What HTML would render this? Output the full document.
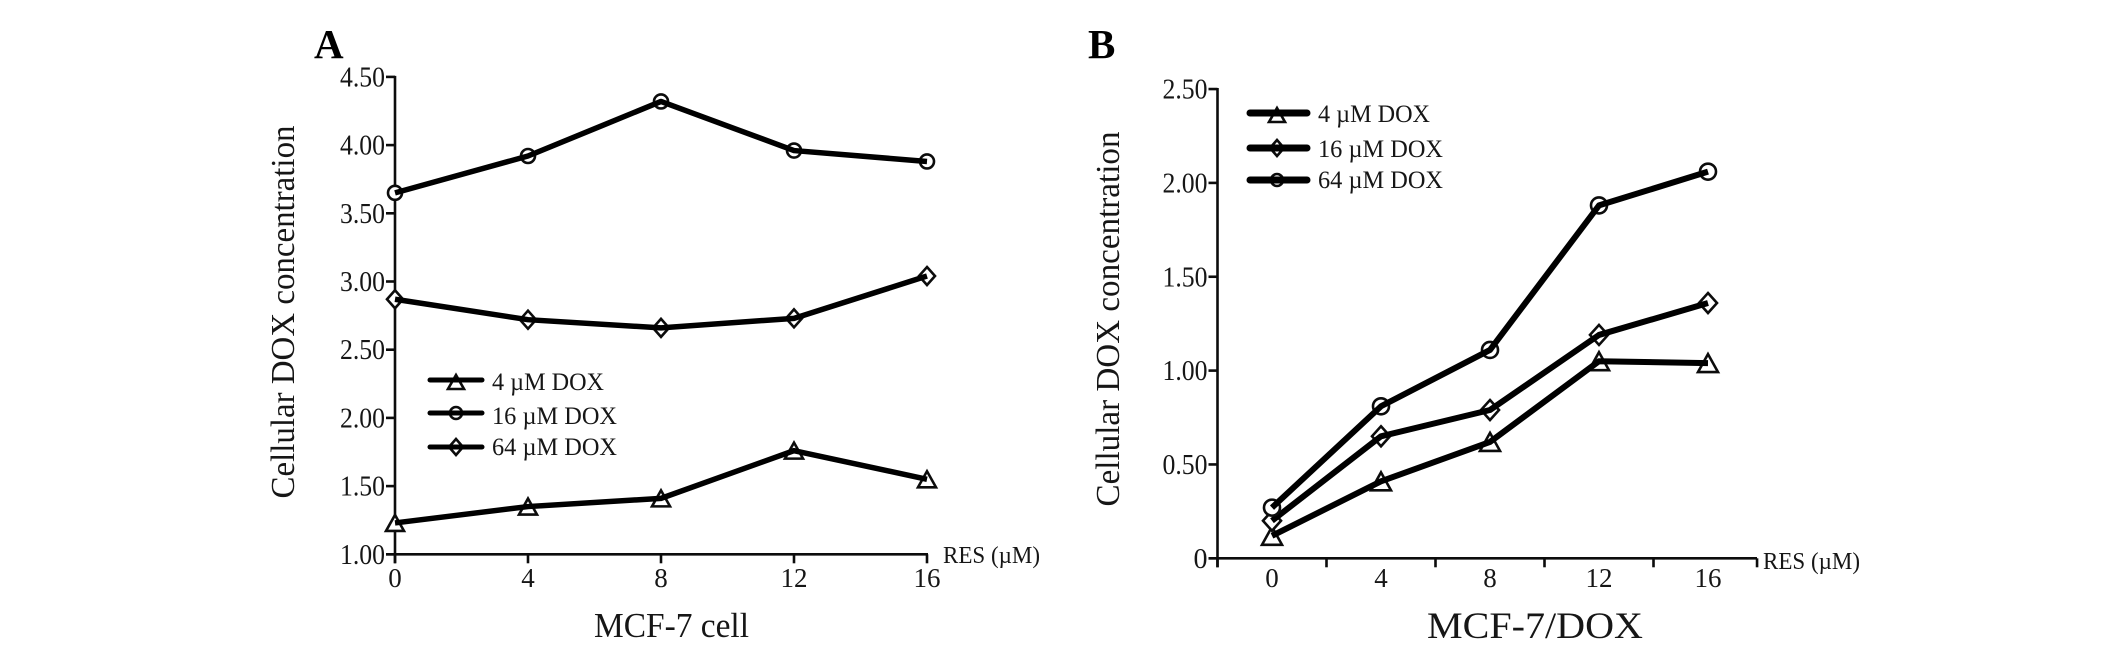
<!DOCTYPE html>
<html lang="en">
<head>
<meta charset="utf-8">
<title>Cellular DOX concentration</title>
<style>
html,body{margin:0;padding:0;background:#fff;width:2126px;height:650px;overflow:hidden}
svg{display:block}
text{font-family:"Liberation Serif","Times New Roman",serif;fill:#161616}
</style>
</head>
<body>
<svg id="figure" xmlns="http://www.w3.org/2000/svg" width="2126" height="650" viewBox="0 0 2126 650">
  <rect width="2126" height="650" fill="#fff"/>
  <text x="314" y="58" font-size="41" font-weight="bold" style="fill:#000">A</text>
  <text x="1088" y="58" font-size="41" font-weight="bold" style="fill:#000">B</text>
  <text transform="translate(294,312) rotate(-90)" text-anchor="middle" font-size="34" textLength="373" lengthAdjust="spacingAndGlyphs">Cellular DOX concentration</text>
  <text transform="translate(1119,319) rotate(-90)" text-anchor="middle" font-size="34" textLength="375" lengthAdjust="spacingAndGlyphs">Cellular DOX concentration</text>
  <text x="594" y="637" font-size="35" textLength="155" lengthAdjust="spacingAndGlyphs">MCF-7 cell</text>
  <text x="1427" y="638" font-size="37" textLength="216" lengthAdjust="spacingAndGlyphs">MCF-7/DOX</text>
  <text x="943" y="563" font-size="24" textLength="97" lengthAdjust="spacingAndGlyphs">RES (µM)</text>
  <text x="1763" y="569" font-size="24" textLength="97" lengthAdjust="spacingAndGlyphs">RES (µM)</text>
  <g id="panel-a"></g>
  <g id="panel-b"></g>
</svg>
<script>
var categories = [0, 4, 8, 12, 16];
var seriesNames = ['4 µM DOX', '16 µM DOX', '64 µM DOX'];

var panelA4 = [1.23, 1.35, 1.41, 1.76, 1.55];
var panelA16 = [2.87, 2.72, 2.66, 2.73, 3.04];
var panelA64 = [3.65, 3.92, 4.32, 3.96, 3.88];
var panelAYTicks = [1.00, 1.50, 2.00, 2.50, 3.00, 3.50, 4.00, 4.50];
var panelAYTickLabels = ['1.00', '1.50', '2.00', '2.50', '3.00', '3.50', '4.00', '4.50'];

var panelB4 = [0.12, 0.41, 0.62, 1.05, 1.04];
var panelB16 = [0.20, 0.65, 0.79, 1.19, 1.36];
var panelB64 = [0.27, 0.81, 1.11, 1.88, 2.06];
var panelBYTicks = [0, 0.5, 1.0, 1.5, 2.0, 2.5];
var panelBYTickLabels = ['0', '0.50', '1.00', '1.50', '2.00', '2.50'];
var panelBMinorTicks = [-2, 2, 6, 10, 14, 17.8];

var NS = 'http://www.w3.org/2000/svg';
var INK = '#0c0c0c';

function make(parent, tag, attrs, text) {
  var el = document.createElementNS(NS, tag);
  for (var k in attrs) el.setAttribute(k, attrs[k]);
  if (text !== undefined) el.textContent = text;
  parent.appendChild(el);
  return el;
}

function drawMarker(parent, kind, x, y, r) {
  var base = {fill: '#fff', stroke: INK, 'stroke-width': 2.6};
  var el;
  if (kind === 'triangle') {
    base.points = [x, y - r, x + r + 1, y + r, x - r - 1, y + r].join(' ');
    el = make(parent, 'polygon', base);
  } else if (kind === 'diamond') {
    base.points = [x, y - r - 1, x + r, y, x, y + r + 1, x - r, y].join(' ');
    el = make(parent, 'polygon', base);
  } else {
    base.cx = x;
    base.cy = y;
    base.r = r - 1;
    el = make(parent, 'circle', base);
  }
  
  
}

function drawPanel(cfg) {
  var g = document.getElementById(cfg.id);
  function xScale(v) { return cfg.x0 + (v - categories[0]) * cfg.xStep; }
  function yScale(v) { return cfg.yBase - (v - cfg.yMin) * cfg.yUnit; }

  var yAxis = make(g, 'line', {x1: cfg.axisX, x2: cfg.axisX, y1: yScale(cfg.yTicks[cfg.yTicks.length - 1]) - 1, y2: cfg.yBase + 9, stroke: INK, 'stroke-width': 2.6});
  
  
  var xAxis = make(g, 'line', {x1: cfg.axisX - 9, x2: cfg.axisEnd + 1, y1: cfg.yBase, y2: cfg.yBase, stroke: INK, 'stroke-width': 2.6});
  
  

  cfg.yTicks.forEach(function (t, i) {
    var y = yScale(t);
    var tick = make(g, 'line', {x1: cfg.axisX - 9, x2: cfg.axisX, y1: y, y2: y, stroke: INK, 'stroke-width': 2.6});
    
    
    var label = make(g, 'text', {x: cfg.axisX - 10, y: y + 9.5, 'text-anchor': 'end', 'font-size': 28}, cfg.yLabels[i]);
    if (cfg.yLabels[i].length > 1) {
      label.setAttribute('textLength', 45);
      label.setAttribute('lengthAdjust', 'spacingAndGlyphs');
    }
    
    
  });

  categories.forEach(function (c) {
    var x = xScale(c);
    if (cfg.catTicks) {
      var tick = make(g, 'line', {x1: x, x2: x, y1: cfg.yBase, y2: cfg.yBase + 9, stroke: INK, 'stroke-width': 2.6});
      
      
    }
    var label = make(g, 'text', {x: x + cfg.labelDx, y: 587, 'text-anchor': 'middle', 'font-size': 27}, String(c));
    
    
  });

  cfg.minor.forEach(function (m) {
    var x = xScale(m);
    var tick = make(g, 'line', {x1: x, x2: x, y1: cfg.yBase, y2: cfg.yBase + 9, stroke: INK, 'stroke-width': 2.6});
    
    
  });

  cfg.series.forEach(function (s) {
    var group = make(g, 'g', {});
    
    
    var pts = s.values.map(function (v, i) { return [xScale(categories[i]), yScale(v)]; });
    pts.forEach(function (p) {
      s.kinds.forEach(function (k) { drawMarker(group, k, p[0], p[1], cfg.markerR); });
    });
    var line = make(group, 'polyline', {points: pts.map(function (p) { return p.join(','); }).join(' '), fill: 'none', stroke: '#000', 'stroke-width': cfg.lineW, 'stroke-linejoin': 'round'});
    
    
  });

  seriesNames.forEach(function (name, i) {
    var leg = cfg.legend;
    var entry = make(g, 'g', {});
    
    
    var y = leg.lineY[i];
    drawMarker(entry, leg.kinds[i], leg.mx, y + leg.dy[i], 7);
    var sw = make(entry, 'line', {x1: leg.x1, x2: leg.x2, y1: y, y2: y, stroke: '#000', 'stroke-width': leg.w, 'stroke-linecap': 'round'});
    
    
    var t = make(entry, 'text', {x: leg.tx, y: leg.textY[i], 'font-size': 25, textLength: name.length > 8 ? 125 : 112, lengthAdjust: 'spacingAndGlyphs'}, name);
    
    
  });
}

drawPanel({
  id: 'panel-a', x0: 395, xStep: 33.25, axisX: 395, axisEnd: 927,
  yBase: 554.3, yMin: 1, yUnit: 136.4, yTicks: panelAYTicks, yLabels: panelAYTickLabels,
  catTicks: true, minor: [], labelDx: 0, markerR: 8, lineW: 5.5,
  series: [
    {key: '4-um', values: panelA4, kinds: ['triangle']},
    {key: '16-um', values: panelA16, kinds: ['diamond']},
    {key: '64-um', values: panelA64, kinds: ['circle']}
  ],
  legend: {x1: 430, x2: 482, mx: 456, tx: 492, w: 5, lineY: [380, 413, 447], textY: [390, 424, 455], kinds: ['triangle', 'circle', 'diamond'], dy: [2, 0, 0]}
});

drawPanel({
  id: 'panel-b', x0: 1272, xStep: 27.25, axisX: 1217.5, axisEnd: 1756,
  yBase: 558.3, yMin: 0, yUnit: 187.7, yTicks: panelBYTicks, yLabels: panelBYTickLabels,
  catTicks: false, minor: panelBMinorTicks, labelDx: 0, markerR: 9, lineW: 6,
  series: [
    {key: '4-um', values: panelB4, kinds: ['triangle']},
    {key: '16-um', values: panelB16, kinds: ['diamond']},
    {key: '64-um', values: panelB64, kinds: ['circle']}
  ],
  legend: {x1: 1250, x2: 1307, mx: 1277, tx: 1318, w: 7, lineY: [113, 148, 180], textY: [122, 157, 188], kinds: ['triangle', 'diamond', 'circle'], dy: [2, 0, 0]}
});
</script>
</body>
</html>
